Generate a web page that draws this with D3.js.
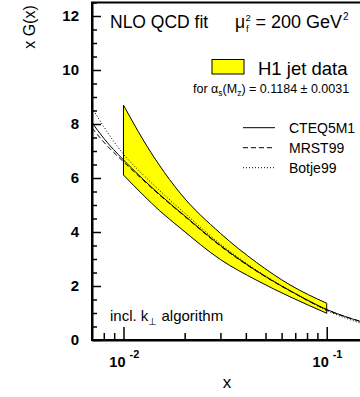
<!DOCTYPE html>
<html><head><meta charset="utf-8">
<script src="https://cdn.jsdelivr.net/npm/d3@7"></script>
<style>
body{margin:0;background:#fff}
svg{display:block}
text{font-family:"Liberation Sans",Arial,Helvetica,sans-serif;fill:#000}
</style>
</head><body>
<svg id="c" width="360" height="397"></svg>
<script>
// H1 jet data band (x, upper and lower edge of xG(x))
const bandX     = [0.01, 0.0125, 0.015, 0.019, 0.03, 0.045, 0.066, 0.1];
const bandUpper = [8.70, 7.41, 6.48, 5.44, 3.95, 2.88, 2.04, 1.36];
const bandLower = [6.11, 5.37, 4.80, 4.15, 2.98, 2.22, 1.60, 0.99];

// Global parton density fits
const curveX = [0.007, 0.008, 0.01, 0.0125, 0.015, 0.02, 0.03, 0.05, 0.07, 0.1, 0.15];
const cteq5m1 = [8.05, 7.47, 6.67, 5.95, 5.40, 4.60, 3.50, 2.35, 1.72, 1.13, 0.66];
const mrst99  = [7.85, 7.33, 6.60, 5.92, 5.38, 4.58, 3.48, 2.34, 1.71, 1.12, 0.67];
const botje99 = [8.60, 7.90, 6.88, 6.12, 5.55, 4.70, 3.55, 2.37, 1.72, 1.09, 0.60];

// Axis ticks
const xMajorTicks = [0.01, 0.1];
const xMajorExp   = ["-2", "-1"];
const xMinorTicks = [0.008, 0.009, 0.02, 0.03, 0.04, 0.05, 0.06, 0.07, 0.08, 0.09];
const yMajorTicks = [0, 2, 4, 6, 8, 10, 12];
const yMinorTicks = [0.5, 1, 1.5, 2.5, 3, 3.5, 4.5, 5, 5.5, 6.5, 7, 7.5, 8.5, 9, 9.5, 10.5, 11, 11.5, 12.5];

const legendNames = ["CTEQ5M1", "MRST99", "Botje99"];
const legendDash  = [null, "5,3", "1,2"];

const svg = d3.select("#c");
const x = d3.scaleLog().domain([0.007, 0.15]).range([92, 362.5]);
const y = d3.scaleLinear().domain([0, 12.5]).range([340, 2.5]);

// clip region = plot frame
svg.append("clipPath").attr("id", "plot")
  .append("rect").attr("x", x(0.007)).attr("y", y(12.5))
  .attr("width", x(0.15) - x(0.007)).attr("height", y(0) - y(12.5));

const g = svg.append("g").attr("clip-path", "url(#plot)");

// band
const band = bandX.map((v, i) => ({x: v, lo: bandLower[i], hi: bandUpper[i]}));
g.append("path").datum(band)
  .attr("d", d3.area().x(d => x(d.x)).y0(d => y(d.lo)).y1(d => y(d.hi)).curve(d3.curveMonotoneX))
  .attr("fill", "#ffff00").attr("stroke", "#000").attr("stroke-width", 1)
  .attr("stroke-linejoin", "miter");

// fit curves
const series = [cteq5m1, mrst99, botje99];
const line = d3.line().x(d => x(d[0])).y(d => y(d[1])).curve(d3.curveMonotoneX);
series.forEach((s, i) => {
  g.append("path").datum(curveX.map((v, j) => [v, s[j]]))
    .attr("d", line).attr("fill", "none").attr("stroke", "#000")
    .attr("stroke-width", 1)
    .attr("stroke-dasharray", legendDash[i]);
});

// frame (top / right)
svg.append("rect").attr("x", x(0.007)).attr("y", y(12.5))
  .attr("width", x(0.15) - x(0.007)).attr("height", y(0) - y(12.5))
  .attr("fill", "none").attr("stroke", "#000").attr("stroke-width", 2);

// y axis
const yAxis = svg.append("g").attr("transform", `translate(${x(0.007)},0)`)
  .call(d3.axisLeft(y).tickValues(yMajorTicks).tickSizeInner(-9).tickSizeOuter(0)
    .tickPadding(13).tickFormat(d3.format("d")));
yAxis.select(".domain").attr("stroke-width", 2);
yAxis.selectAll(".tick line").attr("stroke-width", 1.5);
yAxis.selectAll("text").attr("font-size", 15).attr("font-weight", "bold")
  .attr("font-family", "Liberation Sans, Arial, sans-serif");
const yMinor = svg.append("g").attr("transform", `translate(${x(0.007)},0)`)
  .call(d3.axisLeft(y).tickValues(yMinorTicks).tickSizeInner(-5).tickSizeOuter(0).tickFormat(""));
yMinor.select(".domain").remove();
yMinor.selectAll(".tick line").attr("stroke-width", 1.5);

// x axis
const xAxis = svg.append("g").attr("transform", `translate(0,${y(0)})`)
  .call(d3.axisBottom(x).tickValues(xMajorTicks).tickSizeInner(-13).tickSizeOuter(0).tickFormat(""));
xAxis.select(".domain").attr("stroke-width", 2);
xAxis.selectAll(".tick line").attr("stroke-width", 1.5);
const xMinor = svg.append("g").attr("transform", `translate(0,${y(0)})`)
  .call(d3.axisBottom(x).tickValues(xMinorTicks).tickSizeInner(-7).tickSizeOuter(0).tickFormat(""));
xMinor.select(".domain").remove();
xMinor.selectAll(".tick line").attr("stroke-width", 1.5);

// x tick labels 10^n
xMajorTicks.forEach((t, i) => {
  svg.append("text").attr("x", x(t) + 2).attr("y", 367).attr("text-anchor", "end")
    .attr("font-size", 14.5).attr("font-weight", "bold").text("10");
  svg.append("text").attr("x", x(t) + 6).attr("y", 357.5)
    .attr("font-size", 11).attr("font-weight", "bold").text(xMajorExp[i]);
});

// axis titles
svg.append("text").attr("x", 227).attr("y", 388).attr("text-anchor", "middle")
  .attr("font-size", 17).text("x");
svg.append("text").attr("transform", "translate(35,27) rotate(-90)")
  .attr("text-anchor", "middle").attr("font-size", 16).text("x G(x)");

// header
svg.append("text").attr("x", 110).attr("y", 27.5).attr("font-size", 17.5).text("NLO QCD fit");
svg.append("text").attr("x", 235).attr("y", 27.5).attr("font-size", 17.5).text("\u03bc");
svg.append("text").attr("x", 246).attr("y", 32).attr("font-size", 9.5).text("f");
svg.append("text").attr("x", 245.5).attr("y", 20.5).attr("font-size", 9.5).text("2");
const scale = svg.append("text").attr("x", 255.5).attr("y", 27.5).attr("font-size", 18);
scale.append("tspan").text("= 200 GeV");
scale.append("tspan").attr("font-size", 10).attr("dy", -8).attr("dx", 1).text("2");

// data legend
svg.append("rect").attr("x", 212).attr("y", 59.5).attr("width", 32).attr("height", 14.5)
  .attr("fill", "#ffff00").attr("stroke", "#000").attr("stroke-width", 1);
svg.append("text").attr("x", 258).attr("y", 75).attr("font-size", 18.5).text("H1 jet data");
const alpha = svg.append("text").attr("x", 193).attr("y", 92.5).attr("font-size", 12.5);
alpha.append("tspan").text("for \u03b1");
alpha.append("tspan").attr("font-size", 8.5).attr("dy", 3).text("s");
alpha.append("tspan").attr("dy", -3).text("(M");
alpha.append("tspan").attr("font-size", 8.5).attr("dy", 3).text("z");
alpha.append("tspan").attr("dy", -3).text(") = 0.1184 \u00b1 0.0031");

// fit legend
legendNames.forEach((name, i) => {
  const by = 132.7 + i * 20;
  svg.append("line").attr("x1", 243).attr("x2", 275).attr("y1", by - 5).attr("y2", by - 5)
    .attr("stroke", "#000").attr("stroke-width", 1).attr("stroke-dasharray", legendDash[i]);
  svg.append("text").attr("x", 289).attr("y", by).attr("font-size", 14).text(name);
});

// jet algorithm note
const alg = svg.append("text").attr("x", 110).attr("y", 321).attr("font-size", 15);
alg.append("tspan").text("incl. k");
alg.append("tspan").attr("font-size", 10).attr("dy", 4).text("\u22a5");
alg.append("tspan").attr("dy", -4).text(" algorithm");
</script>
</body></html>
